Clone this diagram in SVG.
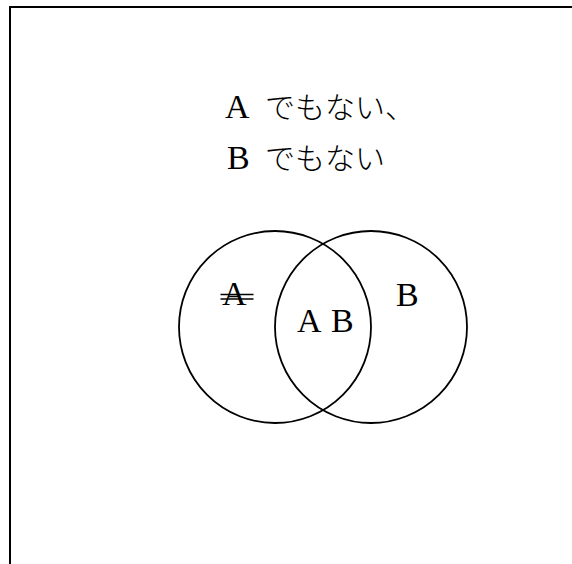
<svg xmlns="http://www.w3.org/2000/svg" width="572" height="564" viewBox="0 0 572 564">
<style>
.frame{stroke:#000;stroke-width:2;fill:none}
.c{fill:none;stroke:#000;stroke-width:1.8}
.t{font-family:"Liberation Serif","Noto Sans CJK JP",serif;font-size:34px;fill:#000}
.k{font-family:"Noto Sans CJK JP","Liberation Serif",sans-serif;font-size:30px;font-weight:300}
.s{stroke:#000;stroke-width:1.4}
</style>
<rect width="572" height="564" fill="#fff"/>
<path class="frame" d="M10 564 V7 H572"/>
<g id="title">
<text class="t" x="225" y="118">A<tspan class="k" x="265">でもない、</tspan></text>
<text class="t" x="227" y="169">B<tspan class="k" x="265">でもない</tspan></text>
</g>
<g id="circleA">
<circle class="c" cx="275" cy="327" r="96"/>
<text class="t" x="222" y="305">A</text>
<line class="s" x1="220.5" y1="294.5" x2="253.5" y2="294.5"/>
<line class="s" x1="220.5" y1="299" x2="253.5" y2="299"/>
</g>
<g id="circleB">
<circle class="c" cx="371" cy="327" r="96"/>
<text class="t" x="396" y="306">B</text>
</g>
<g id="intersection">
<text class="t" x="297" y="332">A<tspan x="331">B</tspan></text>
</g>
</svg>
